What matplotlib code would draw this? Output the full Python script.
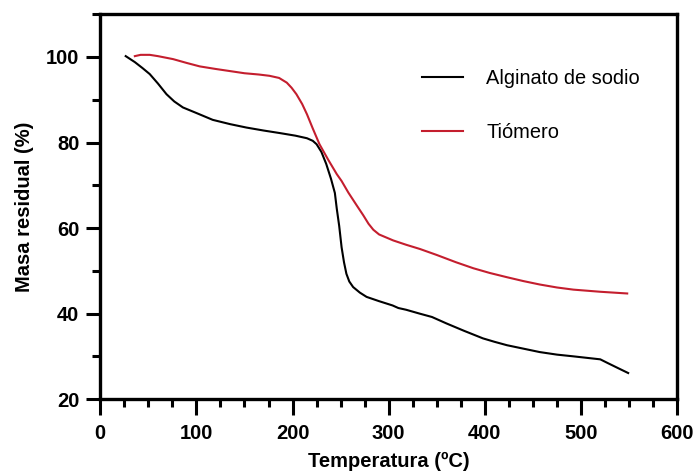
import matplotlib
matplotlib.use("Agg")
import matplotlib.pyplot as plt
from matplotlib.ticker import MultipleLocator

plt.rcParams['font.family'] = ['Liberation Sans', 'DejaVu Sans']

# Alginato de sodio (curva negra)
temp_alg = [26.5, 36, 44, 51.5, 60, 68.9, 77, 86, 100, 117, 135, 152, 170, 187, 203, 215, 221,
            225, 230, 235, 240, 244, 246, 248.5, 251, 253.5, 256, 259, 263, 270, 277, 290, 304,
            310, 318, 332, 345, 360, 378, 398, 410, 423, 440, 457, 475, 492, 508, 520, 528, 538, 549]
masa_alg = [100.2, 98.8, 97.4, 96.0, 93.8, 91.3, 89.6, 88.2, 86.9, 85.3, 84.3, 83.5, 82.8, 82.2, 81.6, 81.0, 80.4,
            79.6, 77.8, 75.0, 71.5, 68.2, 64.5, 60.5, 55.5, 52.0, 49.3, 47.5, 46.2, 44.9, 43.9, 42.9, 41.9,
            41.3, 40.9, 40.0, 39.2, 37.7, 36.0, 34.2, 33.4, 32.6, 31.8, 31.0, 30.4, 30.0, 29.6, 29.3, 28.4, 27.3, 26.1]

# Tiómero (curva roja)
temp_tio = [36, 42, 51.5, 60, 75.8, 90, 103.5, 120, 135, 150, 165, 176, 186, 194, 199, 204, 210,
            215, 221, 228, 237, 246, 251, 258, 267, 273.5, 279, 284, 290, 304.7, 318, 332.5, 350,
            370, 388, 405, 423, 440, 457, 475, 492, 520, 548]
masa_tio = [100.2, 100.5, 100.5, 100.2, 99.5, 98.6, 97.8, 97.2, 96.7, 96.2, 95.9, 95.6, 95.1, 94.0, 92.8, 91.3, 89.0,
            86.6, 83.3, 79.6, 76.0, 72.6, 71.0, 68.3, 65.2, 63.0, 61.0, 59.6, 58.5, 57.1, 56.1, 55.1, 53.7,
            52.0, 50.6, 49.5, 48.5, 47.6, 46.8, 46.1, 45.6, 45.1, 44.7]

fig = plt.figure(figsize=(6.96, 4.74), dpi=100)
ax = fig.add_axes([0.144, 0.158, 0.829, 0.812])

ax.plot(temp_alg, masa_alg, color='black', lw=1.5, label='Alginato de sodio')
ax.plot(temp_tio, masa_tio, color='#C41E2E', lw=1.5, label='Tiómero')

ax.set_xlim(0, 600)
ax.set_ylim(20, 110)
ax.xaxis.set_major_locator(MultipleLocator(100))
ax.xaxis.set_minor_locator(MultipleLocator(25))
ax.set_yticks([20, 40, 60, 80, 100])
ax.yaxis.set_minor_locator(MultipleLocator(10))

for s in ax.spines.values():
    s.set_linewidth(2.4)
ax.tick_params(axis='x', which='major', length=11.5, width=2.2, labelsize=14.5, pad=6.5)
ax.tick_params(axis='y', which='major', length=10, width=2.2, labelsize=14.5, pad=5)
ax.tick_params(which='minor', length=6, width=2.2)
for lab in ax.get_xticklabels() + ax.get_yticklabels():
    lab.set_fontweight('bold')

ax.set_xlabel('Temperatura (ºC)', fontsize=14.5, fontweight='bold', labelpad=6)
ax.set_ylabel('Masa residual (%)', fontsize=14.5, fontweight='bold', labelpad=9)

ax.legend(frameon=False, loc='upper left', bbox_to_anchor=(0.558, 0.857),
          borderaxespad=0, borderpad=0, fontsize=14.4, handlelength=2.05,
          handletextpad=1.15, labelspacing=1.75)

fig.savefig('out.png', dpi=100)
